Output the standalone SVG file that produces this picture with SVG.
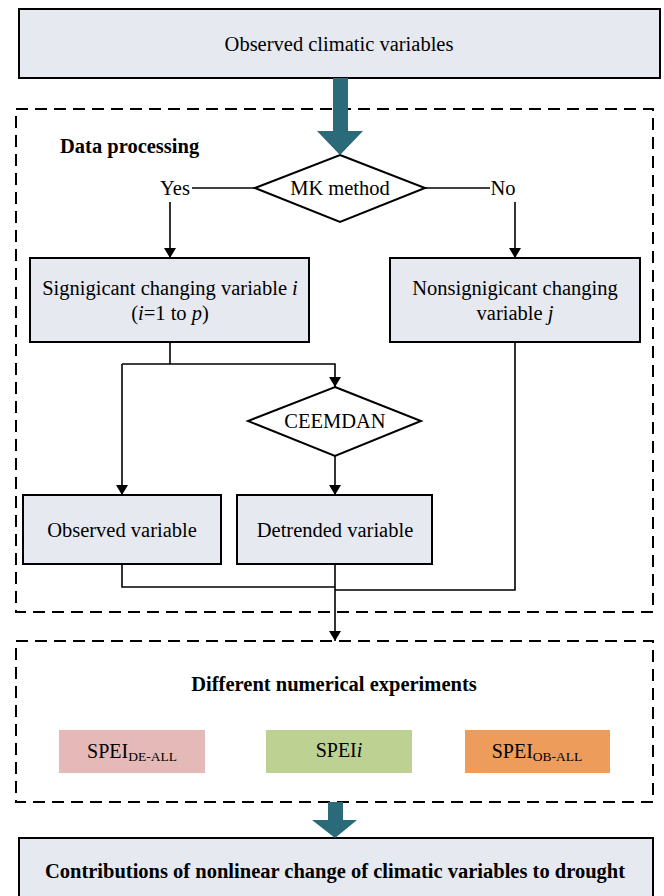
<svg xmlns="http://www.w3.org/2000/svg" width="664" height="896" viewBox="0 0 664 896">
<style>
.box{fill:#e6e9f0;stroke:#000;stroke-width:2}
.dash{fill:none;stroke:#000;stroke-width:2;stroke-dasharray:12 7}
.dia{fill:#fff;stroke:#000;stroke-width:2}
.ln{fill:none;stroke:#000;stroke-width:1.6}
.t{font-family:"Liberation Serif","Times New Roman",serif;font-size:20.5px;fill:#000;text-anchor:middle}
.b{font-weight:bold}
.teal{fill:#2b6a78}
</style>
<defs>
<marker id="ah" viewBox="0 0 10 12" refX="10" refY="6" markerWidth="10" markerHeight="12" markerUnits="userSpaceOnUse" orient="auto">
<path d="M0,0 L10,6 L0,12 Z" fill="#000"/>
</marker>
</defs>
<rect width="664" height="896" fill="#fff"/>

<g id="frame-data">
<rect class="dash" x="16" y="109" width="637" height="503"/>
<text class="t b" x="60" y="153" style="text-anchor:start">Data processing</text>
</g>
<g id="frame-exp">
<rect class="dash" x="16" y="641" width="637" height="161"/>
<text class="t b" x="334" y="691">Different numerical experiments</text>
</g>

<g id="n-observed-climatic">
<rect class="box" x="19" y="9" width="641" height="69"/>
<text class="t" x="339" y="51">Observed climatic variables</text>
</g>

<g id="n-mk">
<polygon class="dia" points="340,155 425,188 340,222 255,188"/>
<text class="t" x="340" y="195">MK method</text>
</g>

<g id="n-sig">
<rect class="box" x="30" y="258" width="279" height="84"/>
<text class="t" x="170" y="295">Signigicant changing variable <tspan font-style="italic">i</tspan></text>
<text class="t" x="170" y="320">(<tspan font-style="italic">i</tspan>=1 to <tspan font-style="italic">p</tspan>)</text>
</g>

<g id="n-nonsig">
<rect class="box" x="390" y="258" width="250" height="84"/>
<text class="t" x="515" y="295">Nonsignigicant changing</text>
<text class="t" x="515" y="320">variable <tspan font-style="italic">j</tspan></text>
</g>

<g id="n-ceemdan">
<polygon class="dia" points="335,387 421,421 335,456 248,421"/>
<text class="t" x="335" y="428">CEEMDAN</text>
</g>

<g id="n-obsvar">
<rect class="box" x="23" y="495" width="198" height="69"/>
<text class="t" x="122" y="537">Observed variable</text>
</g>

<g id="n-detvar">
<rect class="box" x="237" y="495" width="195" height="69"/>
<text class="t" x="335" y="537">Detrended variable</text>
</g>

<g id="n-spei-de">
<rect x="59" y="730" width="146" height="43" fill="#e5b9b8"/>
<text class="t" x="132" y="758" style="font-size:20px">SPEI<tspan font-size="13.5" dy="3">DE-ALL</tspan></text>
</g>
<g id="n-spei-i">
<rect x="266" y="730" width="146" height="43" fill="#bcd192"/>
<text class="t" x="339" y="757" style="font-size:20px">SPEI<tspan font-style="italic">i</tspan></text>
</g>
<g id="n-spei-ob">
<rect x="465" y="730" width="145" height="43" fill="#ee9c5c"/>
<text class="t" x="537" y="758" style="font-size:20px">SPEI<tspan font-size="13.5" dy="3">OB-ALL</tspan></text>
</g>

<g id="n-contrib">
<rect class="box" x="19" y="838" width="634" height="70"/>
<text class="t b" x="335" y="878">Contributions of nonlinear change of climatic variables to drought</text>
</g>

<g id="connectors">
<path class="teal" d="M333,78 H348 V131 H363 L340,155 L317,131 H333 Z"/>
<path class="teal" d="M328,802 H343 V820 H357 L335,838 L312,820 H328 Z"/>
<text class="t" x="175" y="195">Yes</text>
<text class="t" x="503" y="195">No</text>
<path class="ln" d="M192,188 H255"/>
<path class="ln" d="M425,188 H490"/>
<path class="ln" d="M170,202 V258" marker-end="url(#ah)"/>
<path class="ln" d="M515,202 V258" marker-end="url(#ah)"/>
<path class="ln" d="M170,342 V364"/>
<path class="ln" d="M122,364 H335 V387" marker-end="url(#ah)"/>
<path class="ln" d="M122,364 V495" marker-end="url(#ah)"/>
<path class="ln" d="M335,456 V495" marker-end="url(#ah)"/>
<path class="ln" d="M122,564 V587 H335"/>
<path class="ln" d="M515,342 V590 H335"/>
<path class="ln" d="M335,564 V641" marker-end="url(#ah)"/>
</g>
</svg>
